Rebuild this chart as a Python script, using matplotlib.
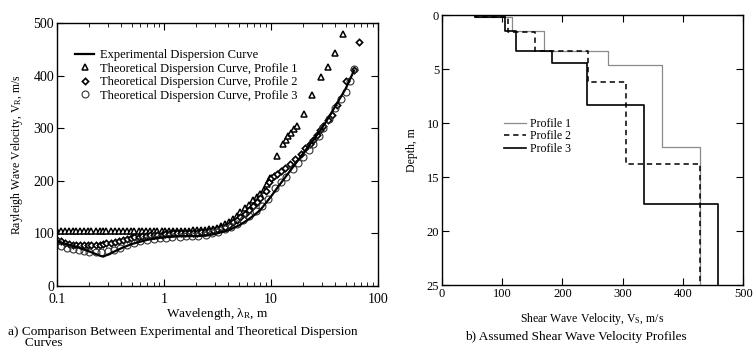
import numpy as np
import matplotlib
matplotlib.use("Agg")
import matplotlib.pyplot as plt

plt.rcParams['font.family'] = ['Liberation Serif', 'DejaVu Serif']
plt.rcParams['mathtext.fontset'] = 'custom'
plt.rcParams['mathtext.rm'] = 'Liberation Serif'
plt.rcParams['mathtext.it'] = 'Liberation Serif:italic'

# ---- Panel a data ----
exp_lam = [0.1, 0.15, 0.2, 0.25, 0.27, 0.3, 0.4, 0.5, 0.7, 1.0, 1.5, 2.0, 2.5, 3.0, 4.0, 5.0,
           6.0, 7.0, 8.0, 10, 12, 15, 20, 25, 30, 35, 40, 50, 60]
exp_v = [85, 75, 66, 58, 56, 60, 72, 80, 88, 93, 95, 95, 96, 99, 106, 115,
         125, 135, 145, 170, 192, 218, 252, 278, 300, 322, 342, 375, 410]

p1_lam = [0.1, 0.11, 0.12, 0.13, 0.14, 0.15, 0.165, 0.18, 0.195, 0.21, 0.23, 0.25, 0.27, 0.29,
          0.32, 0.35, 0.38, 0.41, 0.45, 0.49, 0.53, 0.58, 0.63, 0.68, 0.74, 0.8, 0.87, 0.95,
          1.03, 1.12, 1.22, 1.33, 1.45, 1.58, 1.72, 1.87, 2.04, 2.22, 2.42, 2.64, 2.87, 3.13,
          3.41, 3.72, 4.05, 4.4, 4.8, 5.2, 5.7, 6.2, 6.8, 7.4, 8.0, 8.6, 9.2, 9.8,
          11.4, 13.0, 13.8, 14.6, 15.4, 16.3, 17.5, 20.4, 24, 29.6, 34, 39.5, 47]
p1_v = [105, 105, 105, 105, 105, 105, 105, 105, 105, 105, 105, 105, 105, 105,
        105, 105, 105, 105, 105, 105, 105, 105, 105, 105, 105, 105, 105, 105,
        105, 105, 105, 105, 105, 105, 105, 106, 106, 107, 107, 108, 109, 111,
        114, 118, 122, 127, 133, 140, 148, 155, 163, 170, 176, 183, 195, 205,
        247, 270, 278, 285, 292, 298, 305, 327, 363, 398, 416, 443, 480]

p2_lam = [0.1, 0.11, 0.12, 0.13, 0.14, 0.15, 0.165, 0.18, 0.195, 0.21, 0.23, 0.25, 0.27, 0.29,
          0.32, 0.35, 0.38, 0.41, 0.45, 0.49, 0.53, 0.58, 0.63, 0.68, 0.74, 0.8, 0.87, 0.95,
          1.03, 1.12, 1.22, 1.33, 1.45, 1.58, 1.72, 1.87, 2.04, 2.22, 2.42, 2.64, 2.87, 3.13,
          3.41, 3.72, 4.05, 4.4, 4.8, 5.2, 5.7, 6.2, 6.8, 7.4, 8.0, 9.0, 9.6, 10.1, 10.6,
          11.5, 12.5, 13.5, 15, 17, 19, 21, 23, 25, 27, 29, 31, 34, 37, 42, 50, 60, 67]
p2_v = [88, 85, 82, 80, 79, 78, 78, 78, 78, 78, 79, 79, 80, 81,
        82, 84, 86, 88, 90, 92, 93, 94, 95, 96, 97, 97, 98, 98,
        99, 99, 100, 100, 100, 100, 100, 101, 101, 102, 103, 104, 106, 108,
        110, 113, 117, 121, 126, 131, 138, 145, 152, 160, 168, 180, 198, 205, 210,
        214, 219, 224, 232, 242, 252, 262, 270, 278, 287, 296, 305, 315, 325, 345, 390, 410, 465]

p3_lam = [0.1, 0.11, 0.125, 0.14, 0.16, 0.18, 0.2, 0.23, 0.26, 0.3, 0.34, 0.39, 0.45, 0.52,
          0.6, 0.7, 0.8, 0.92, 1.05, 1.2, 1.4, 1.6, 1.85, 2.1, 2.45, 2.8, 3.2, 3.7, 4.2,
          4.8, 5.5, 6.3, 7.2, 8.2, 9.5, 11, 12.5, 14, 16, 18, 20, 22.5, 25, 28, 31, 35,
          40, 45, 50, 55, 60]
p3_v = [85, 76, 72, 70, 68, 66, 65, 64, 64, 66, 69, 73, 78, 81,
        85, 88, 90, 91, 92, 93, 94, 95, 96, 96, 98, 100, 103, 108, 112,
        118, 125, 133, 142, 153, 166, 186, 198, 208, 222, 235, 246, 258, 270, 285, 300, 318,
        338, 355, 370, 390, 412]

# ---- Panel b data ----
prof1_vel = [55, 116, 170, 275, 366, 428]
prof1_bnd = [0.2, 1.5, 3.3, 4.6, 12.2]
prof2_vel = [55, 110, 155, 243, 305, 428]
prof2_bnd = [0.2, 1.6, 3.3, 6.2, 13.8]
prof3_vel = [55, 104, 123, 183, 241, 335, 458]
prof3_bnd = [0.2, 1.5, 3.3, 4.4, 8.3, 17.5]
max_depth = 25


def step_xy(vel, bnd):
    x = np.repeat(vel, 2)
    y = np.concatenate([[0], np.repeat(bnd, 2), [max_depth]])
    return x, y


fig = plt.figure(figsize=(7.53, 3.51), dpi=100)

# ---------- Panel a ----------
ax1 = fig.add_axes([0.0757, 0.185, 0.426, 0.749])
ax1.plot(exp_lam, exp_v, color='black', lw=1.6, label='Experimental Dispersion Curve', zorder=3)
ax1.plot(p1_lam, p1_v, ls='none', marker='^', ms=4.2, mfc='white', mec='black', mew=1.1,
         label='Theoretical Dispersion Curve, Profile 1')
ax1.plot(p2_lam, p2_v, ls='none', marker='D', ms=3.2, mfc='white', mec='black', mew=1.2,
         label='Theoretical Dispersion Curve, Profile 2')
ax1.plot(p3_lam, p3_v, ls='none', marker='o', ms=5, mfc='none', mec='#333333', mew=0.8,
         label='Theoretical Dispersion Curve, Profile 3')
ax1.set_xscale('log')
ax1.set_xlim(0.1, 100)
ax1.set_ylim(0, 500)
ax1.set_yticks([0, 100, 200, 300, 400, 500])
ax1.set_xticks([0.1, 1, 10, 100])
ax1.set_xticklabels(['0.1', '1', '10', '100'])
ax1.tick_params(which='both', direction='in', top=True, right=True, labelsize=10)
ax1.tick_params(axis='x', pad=5)
ax1.tick_params(axis='y', pad=2)
ax1.tick_params(which='major', length=5)
ax1.tick_params(which='minor', length=3)
ax1.set_xlabel('Wavelength, λ$_\\mathrm{R}$, m', fontsize=9.5, labelpad=0)
ax1.set_ylabel('Rayleigh Wave Velocity, V$_\\mathrm{R}$, m/s', fontsize=8.5, labelpad=6)
ax1.legend(loc='upper left', bbox_to_anchor=(0.03, 0.935), frameon=False, fontsize=9,
           handlelength=1.5, handletextpad=0.5, labelspacing=0.12, borderpad=0.2)
for sp in ax1.spines.values():
    sp.set_linewidth(1.0)

# ---------- Panel b ----------
ax2 = fig.add_axes([0.587, 0.188, 0.400, 0.769])
x1, y1 = step_xy(prof1_vel, prof1_bnd)
x2, y2 = step_xy(prof2_vel, prof2_bnd)
x3, y3 = step_xy(prof3_vel, prof3_bnd)
ax2.plot(x1, y1, color='#8a8a8a', lw=0.9, label='Profile 1')
ax2.plot(x2, y2, color='black', lw=1.1, ls=(0, (3.5, 2.5)), label='Profile 2')
ax2.plot(x3, y3, color='black', lw=1.2, label='Profile 3')
ax2.set_xlim(0, 500)
ax2.set_ylim(25, 0)
ax2.set_xticks([0, 100, 200, 300, 400, 500])
ax2.set_yticks([0, 5, 10, 15, 20, 25])
ax2.tick_params(which='both', direction='in', top=True, right=True, labelsize=9, length=5, pad=2)
ax2.set_xlabel('Shear Wave Velocity, V$_\\mathrm{S}$, m/s', fontsize=8.5, labelpad=8)
ax2.set_ylabel('Depth, m', fontsize=8.5, labelpad=6)
ax2.legend(loc='upper left', bbox_to_anchor=(0.18, 0.65), frameon=False, fontsize=8.5,
           handlelength=1.8, handletextpad=0.4, labelspacing=0.05, borderpad=0.2)
for sp in ax2.spines.values():
    sp.set_linewidth(1.0)

# captions
fig.text(0.011, 0.038, 'a) Comparison Between Experimental and Theoretical Dispersion\n     Curves',
         fontsize=9.5, va='center', ha='left', linespacing=0.95)
fig.text(0.765, 0.04, 'b) Assumed Shear Wave Velocity Profiles', fontsize=9.5, ha='center', va='center')

fig.savefig('out.png', dpi=100)
